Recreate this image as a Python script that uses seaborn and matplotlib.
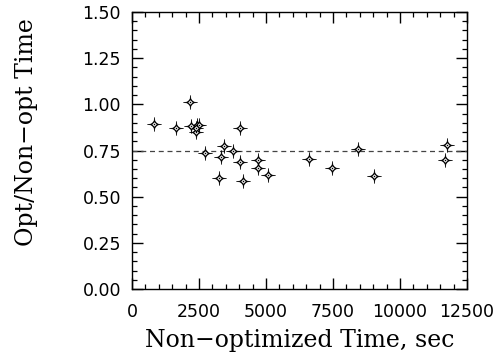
import matplotlib
matplotlib.use("Agg")
import matplotlib.pyplot as plt
import seaborn as sns
import pandas as pd
from matplotlib.ticker import MultipleLocator
from matplotlib.path import Path

non_opt_time = [833, 1642, 2176, 2201, 2425, 2490, 2388, 2400, 2711, 3246, 3333,
                3420, 3756, 4030, 4030, 4129, 4713, 4713, 5074, 6604, 7480, 8432,
                9041, 11741, 11666]
ratio = [0.894, 0.874, 1.012, 0.885, 0.888, 0.890, 0.848, 0.870, 0.734, 0.600,
         0.716, 0.777, 0.750, 0.870, 0.687, 0.586, 0.701, 0.654, 0.616, 0.705,
         0.653, 0.759, 0.613, 0.779, 0.701]
mean_ratio = 0.75

df = pd.DataFrame({"x": non_opt_time, "y": ratio})

sns.set_style("ticks")
plt.rcParams["font.family"] = ["DejaVu Sans"]
plt.rcParams["text.color"] = "black"
plt.rcParams["axes.labelcolor"] = "black"
plt.rcParams["xtick.labelcolor"] = "black"
plt.rcParams["ytick.labelcolor"] = "black"

# four-pointed star marker shape
k = 0.12
star = Path([(0, 1), (k, k), (1, 0), (k, -k), (0, -1), (-k, -k), (-1, 0), (-k, k), (0, 1)],
            [Path.MOVETO] + [Path.LINETO] * 7 + [Path.CLOSEPOLY])

fig = plt.figure(figsize=(5.03, 3.58), dpi=100)
ax = fig.add_axes([132/503, 69/358, 335/503, 277/358])

sns.scatterplot(data=df, x="x", y="y", ax=ax, marker=star, s=110,
                color="black", linewidth=0.3, edgecolor="black", zorder=3, legend=False)
sns.scatterplot(data=df, x="x", y="y", ax=ax, marker="D", s=10,
                facecolor="white", edgecolor="black", linewidth=0.9,
                zorder=4, legend=False)
sns.scatterplot(data=df, x="x", y="y", ax=ax, marker="o", s=1.2,
                color="black", linewidth=0, zorder=5, legend=False)

ax.axhline(mean_ratio, color="#444444", linestyle=(0, (4, 3)), linewidth=0.9, zorder=2)

ax.set_xlim(0, 12500)
ax.set_ylim(0, 1.5)
ax.xaxis.set_major_locator(MultipleLocator(2500))
ax.xaxis.set_minor_locator(MultipleLocator(500))
ax.yaxis.set_major_locator(MultipleLocator(0.25))
ax.yaxis.set_minor_locator(MultipleLocator(0.05))
ax.yaxis.set_major_formatter(matplotlib.ticker.FormatStrFormatter("%.2f"))

ax.tick_params(which="both", direction="in", top=True, right=True, color="black",
               labelcolor="black")
ax.tick_params(which="major", length=8, width=1.0, labelsize=12.5)
ax.tick_params(axis="y", which="major", pad=8)
ax.tick_params(axis="x", which="major", pad=10)
ax.tick_params(which="minor", length=3.3, width=0.9)
for sp in ax.spines.values():
    sp.set_linewidth(1.0)
    sp.set_color("black")

ax.set_xlabel("Non\u2212optimized Time, sec", family="DejaVu Serif", fontsize=17,
              color="black", labelpad=6)
ax.set_ylabel("Opt/Non\u2212opt Time", family="DejaVu Serif", fontsize=17,
              color="black")
ax.yaxis.set_label_coords(-0.28, 0.565)

fig.savefig("out.png", dpi=100)
